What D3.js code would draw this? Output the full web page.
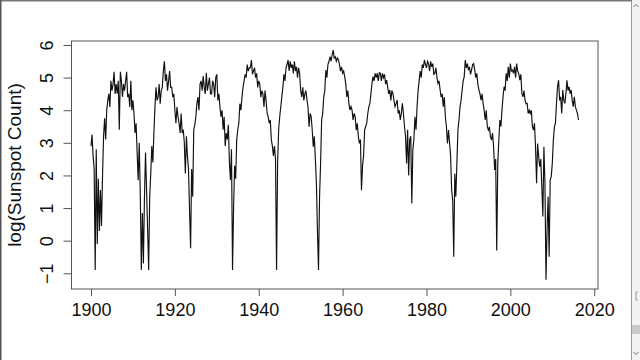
<!DOCTYPE html>
<html>
<head>
<meta charset="utf-8">
<script src="https://cdn.jsdelivr.net/npm/d3@7"></script>
<style>
  html, body { margin: 0; padding: 0; background: #fff; }
  svg { display: block; }
</style>
</head>
<body>
<svg id="chart" width="640" height="360"></svg>
<script>
// ---- data (quarterly estimates) ----
const startYear = 1900;
const perYear = 4;
const logCount = [
  2.9, 3.25, 2.6, 2.2,   -0.9, 2.8, -0.1, 1.9,   0.3, 1.55, 0.45, 2.0,   3.2, 3.75, 3.1, 4.0,
  4.3, 4.5, 4.1, 4.9,    4.6, 4.8, 5.18, 4.5,    4.8, 4.51, 4.9, 3.4,    5.18, 4.9, 4.41, 4.8,
  4.6, 4.9, 5.18, 4.4,   4.5, 4.1, 4.9, 4.0,     4.3, 3.9, 3.3, 3.6,     2.7, 1.85, 3.0, 1.45,
  -0.9, 0.85, -0.7, 1.35, 2.7, 1.55, 0.35, -0.9, 1.35, 2.06, 2.9, 2.4,   3.3, 4.1, 4.7, 4.3,
  4.4, 4.8, 4.2, 4.6,    4.7, 5.2, 5.5, 4.9,     5.1, 4.6, 4.9, 5.2,     4.7, 4.7, 4.4, 4.5,
  4.0, 3.6, 4.1, 3.8,    3.6, 3.3, 3.9, 3.3,     3.4, 3.0, 2.06, 3.2,    2.6, 2.2, 0.94, -0.23,
  2.2, 1.35, 3.4, 3.55,  3.8, 4.2, 4.4, 4.0,     4.8, 4.9, 4.6, 5.05,    4.7, 4.5, 5.15, 4.6,
  4.8, 5.0, 4.5, 4.5,    4.9, 4.8, 4.4, 5.0,     5.1, 4.3, 4.5, 4.1,     3.8, 4.0, 3.4, 3.8,
  2.9, 3.3, 3.1, 3.55,   2.4, 1.86, 2.8, -0.9,   1.0, 2.3, 1.9, 3.1,     3.4, 3.6, 4.2, 4.0,
  4.4, 4.7, 4.9, 5.1,    5.0, 5.4, 5.2, 5.3,     5.3, 5.54, 5.1, 5.2,    5.3, 5.0, 5.13, 4.7,
  4.9, 4.8, 4.4, 4.6,    4.5, 4.1, 4.6, 4.3,     3.9, 3.8, 3.6, 3.7,     3.1, 2.9, 2.6, 2.9,
  2.5, -0.9, 2.4, 3.4,   3.8, 4.1, 4.4, 4.7,     5.1, 4.9, 5.3, 5.4,     5.54, 5.2, 5.5, 5.3,
  5.4, 5.13, 5.5, 5.2,   5.33, 5.0, 5.3, 5.13,   4.6, 4.41, 4.7, 4.3,    4.5, 4.6, 4.31, 4.1,
  3.49, 3.9, 3.8, 3.4,   2.88, 3.2, 2.5, 1.76,   0.3, -0.9, 1.35, 2.37,  3.7, 3.9, 4.41, 4.6,
  5.23, 5.0, 5.4, 5.5,   5.64, 5.5, 5.7, 5.84,   5.6, 5.64, 5.5, 5.6,    5.54, 5.4, 5.2, 5.33,
  5.13, 5.2, 5.03, 4.8,  4.41, 4.6, 4.21, 4.0,   4.11, 4.0, 3.7, 3.9,    3.8, 3.39, 3.6, 3.19,
  2.98, 3.1, 1.55, 2.3,  2.6, 3.39, 3.5, 3.6,    3.9, 4.1, 4.21, 4.5,    4.82, 5.03, 4.9, 5.13,
  5.0, 5.13, 4.9, 5.15,  5.13, 4.9, 5.13, 5.0,   5.1, 4.8, 4.92, 4.7,    4.5, 4.62, 4.3, 4.6,
  4.51, 4.3, 4.11, 4.2,  4.31, 3.9, 4.0, 3.7,    3.9, 4.21, 3.9, 3.5,    3.2, 2.37, 3.4, 2.0,
  3.1, 3.2, 1.14, 2.8,   3.1, 3.8, 3.4, 4.1,     4.6, 4.9, 5.2, 5.0,     5.4, 5.3, 5.54, 5.4,
  5.3, 5.5, 5.43, 5.2,   5.5, 5.33, 5.43, 5.1,   5.13, 5.3, 5.0, 4.82,   4.9, 4.62, 4.4, 4.5,
  4.11, 4.4, 3.8, 3.5,   2.98, 3.39, 3.0, 2.6,   1.55, 1.24, -0.49, 2.06, 1.35, 2.37, 3.39, 3.7,
  4.11, 4.3, 4.62, 4.9,  5.03, 5.54, 5.3, 5.43,  5.23, 5.33, 5.1, 5.23,  5.4, 5.43, 5.23, 5.0,
  5.13, 4.8, 4.62, 4.51, 4.31, 4.5, 4.21, 4.0,   3.7, 4.0, 3.5, 3.39,    3.49, 3.2, 3.08, 3.3,
  2.88, 2.17, 2.5, -0.3, 2.37, 3.08, 3.7, 3.5,   4.0, 4.41, 4.72, 4.6,   5.13, 4.9, 5.33, 5.0,
  5.43, 5.2, 5.23, 5.13, 5.33, 5.0, 5.43, 5.2,   5.13, 4.92, 5.1, 4.51,  4.41, 4.6, 4.31, 4.2,
  4.21, 3.9, 4.0, 3.9,   4.0, 3.5, 3.39, 3.6,    2.88, 1.76, 2.98, 2.57, 2.27, 2.5, 1.65, 0.74,
  2.88, 1.76, -1.2, 0.33, 1.35, -0.49, 1.86, 1.96, 2.37, 3.08, 3.49, 3.6, 4.21, 4.72, 4.92, 4.3,
  4.41, 3.9, 4.62, 4.3,  4.21, 4.51, 4.92, 4.6,  4.72, 4.51, 4.62, 4.3,  4.11, 4.41, 4.11, 4.0,
  3.9, 3.7
];
const xTicks = [1900, 1920, 1940, 1960, 1980, 2000, 2020];
const yTicks = [-1, 0, 1, 2, 3, 4, 5, 6];
const yTitle = "log(Sunspot Count)";

// ---- layout ----
const svg = d3.select("#chart");
const box = { left: 71.5, right: 598, top: 41, bottom: 289 };
const FONT = "'Liberation Sans', Arial, sans-serif";

const series = logCount.map((v, i) => ({ t: startYear + i / perYear, v }));

// R-style 4% padding of the data range
function padded(ext) { const r = ext[1] - ext[0]; return [ext[0] - 0.04 * r, ext[1] + 0.04 * r]; }
const x = d3.scaleLinear().domain(padded(d3.extent(series, d => d.t))).range([box.left, box.right]);
const y = d3.scaleLinear().domain(padded(d3.extent(series, d => d.v))).range([box.bottom, box.top]);

// window frame decorations
svg.append("rect").attr("x", 0).attr("y", 0).attr("width", 640).attr("height", 360).attr("fill", "#fff");
svg.append("rect").attr("x", 631.5).attr("y", 0).attr("width", 8.5).attr("height", 360).attr("fill", "#f3f3f3");
svg.append("line").attr("x1", 631.5).attr("x2", 631.5).attr("y1", 0).attr("y2", 360).attr("stroke", "#9a9a9a").attr("stroke-width", 1);
svg.append("rect").attr("x", 632).attr("y", 325).attr("width", 8).attr("height", 9).attr("fill", "#c9c9c9");
svg.append("path").attr("d", "M633.5,7 L636,4.5 L638.5,7").attr("fill", "none").attr("stroke", "#777").attr("stroke-width", 1);
svg.append("path").attr("d", "M633.5,352 L636,354.5 L638.5,352").attr("fill", "none").attr("stroke", "#777").attr("stroke-width", 1);
svg.append("path").attr("d", "M638,292 L636,292 L636,300 L638,300").attr("fill", "none").attr("stroke", "#999").attr("stroke-width", 1);
svg.append("line").attr("x1", 0).attr("x2", 632).attr("y1", 0.75).attr("y2", 0.75).attr("stroke", "#777").attr("stroke-width", 1.5);
svg.append("line").attr("x1", 0.75).attr("x2", 0.75).attr("y1", 0).attr("y2", 360).attr("stroke", "#555").attr("stroke-width", 1.5);

// plot box
svg.append("rect")
  .attr("x", box.left).attr("y", box.top)
  .attr("width", box.right - box.left).attr("height", box.bottom - box.top)
  .attr("fill", "none").attr("stroke", "#555").attr("stroke-width", 1);

// axes
const xAxis = d3.axisBottom(x).tickValues(xTicks).tickFormat(d3.format("d")).tickSize(7).tickPadding(7);
const gx = svg.append("g").attr("transform", `translate(0,${box.bottom})`).call(xAxis);
gx.select(".domain").remove();
gx.selectAll("line").attr("stroke", "#555");
gx.selectAll("text").attr("font-family", FONT).attr("font-size", 18).attr("fill", "#111");

const yAxis = d3.axisLeft(y).tickValues(yTicks).tickFormat(d3.format("d")).tickSize(8).tickPadding(0);
const gy = svg.append("g").attr("transform", `translate(${box.left},0)`).call(yAxis);
gy.select(".domain").remove();
gy.selectAll("line").attr("stroke", "#555");
gy.selectAll("text")
  .attr("font-family", FONT).attr("font-size", 18).attr("fill", "#111")
  .attr("x", null).attr("dy", null)
  .attr("text-anchor", "middle")
  .attr("transform", `translate(-19,0) rotate(-90)`)
  .attr("y", 0);

// y title
svg.append("text")
  .attr("transform", `translate(21,${(box.top + box.bottom) / 2}) rotate(-90)`)
  .attr("text-anchor", "middle")
  .attr("font-family", FONT).attr("font-size", 19).attr("fill", "#111")
  .text(yTitle);

// series line
const line = d3.line().x(d => x(d.t)).y(d => y(d.v));
svg.append("path")
  .datum(series)
  .attr("d", line)
  .attr("fill", "none")
  .attr("stroke", "#111")
  .attr("stroke-width", 1.15)
  .attr("stroke-linejoin", "miter");
</script>
</body>
</html>
